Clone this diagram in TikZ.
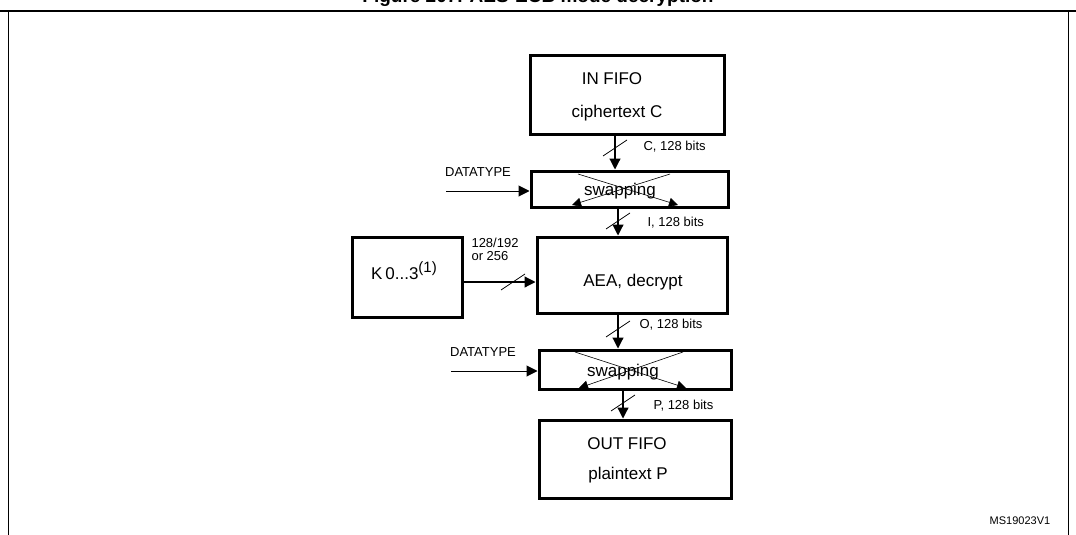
\documentclass[tikz,border=0pt]{standalone}
\usepackage{fontspec}
\setmainfont{Liberation Sans}
\usetikzlibrary{arrows.meta}

\begin{document}
\begin{tikzpicture}[x=1pt,y=-1pt,>={Triangle[length=11pt,width=11pt]},
    block/.style={rectangle, draw, line width=3pt, inner sep=0pt},
    lbl/.style={font=\fontsize{17}{20}\selectfont},
    sml/.style={font=\fontsize{13}{15}\selectfont}]

    \useasboundingbox (0,0) rectangle (1076,535);
    \fill[white] (0,0) rectangle (1076,535);

    % frame and title
    \node[font=\fontsize{19}{22}\selectfont\bfseries] (Title) at (538,-2) {Figure 207. AES-ECB mode decryption};
    \draw[line width=1.5pt] (0,11) -- (1076,11);
    \draw[line width=1pt] (8,11) -- (8,540);
    \draw[line width=1pt] (1068,11) -- (1068,540);

    \node[block,
          minimum width = 194pt,
          minimum height = 78pt] (InFifo) at (627,95) {};
    \node[lbl] at (612,79) {IN FIFO};
    \node[lbl] at (617,113) {ciphertext C};

    \node[block,
          minimum width = 197pt,
          minimum height = 36pt] (Swap1) at (629.5,189) {};
    \node[lbl] at (620,191) {swapping};

    \node[block,
          minimum width = 190pt,
          minimum height = 76pt] (AEA) at (632,275) {};
    \node[lbl] at (633,282) {AEA, decrypt};

    \node[block,
          minimum width = 110pt,
          minimum height = 80pt] (Key) at (407,277) {};
    \node[lbl] at (404,271) {K\,0...3\raisebox{7pt}{\fontsize{15}{17}\selectfont (1)}};

    \node[block,
          minimum width = 192pt,
          minimum height = 39pt] (Swap2) at (635,369.5) {};
    \node[lbl] at (623,372) {swapping};

    \node[block,
          minimum width = 192pt,
          minimum height = 78pt] (OutFifo) at (635,459) {};
    \node[lbl] at (627,444) {OUT FIFO};
    \node[lbl] at (628,475) {plaintext P};

    \coordinate (DT1) at (446,191);
    \coordinate (DT2) at (451,371);
    \node[sml] (DT1label) at (478,172) {DATATYPE};
    \node[sml] (DT2label) at (483,352) {DATATYPE};

    % connectors
    \draw[->,line width=1.2pt] (InFifo.south -| 615,0) -- (Swap1.north -| 615,0);
    \draw[->,line width=1.2pt] (Swap1.south -| 618,0) -- (AEA.north -| 618,0);
    \draw[->,line width=1.2pt] (AEA.south -| 618,0) -- (Swap2.north -| 618,0);
    \draw[->,line width=1.2pt] (Swap2.south -| 623,0) -- (OutFifo.north -| 623,0);
    \draw[->,line width=1.2pt] (Key.east |- 0,282) -- (AEA.west |- 0,282);
    \draw[->,line width=1pt] (DT1) -- (Swap1.west |- DT1);
    \draw[->,line width=1pt] (DT2) -- (Swap2.west |- DT2);

    % bus slashes
    \foreach \x/\y in {615/148, 618/221, 618/329, 623/403, 513/282}
        \draw[line width=0.8pt] (\x-12,\y+8) -- (\x+12,\y-8);

    \node[sml,anchor=west] at (640,147) {C, 128 bits};
    \node[sml,anchor=west] at (644,223) {I, 128 bits};
    \node[sml,anchor=west] at (636,325) {O, 128 bits};
    \node[sml,anchor=west] at (650,406) {P, 128 bits};
    \node[sml,anchor=west,align=left] at (468,249) {128/192\\[-2pt]or 256};

    % swapping crosses
    \draw[-{Triangle[length=9pt,width=9pt]},line width=0.6pt] (578,174) -- (678,205);
    \draw[-{Triangle[length=9pt,width=9pt]},line width=0.6pt] (670,174) -- (572,205);
    \draw[-{Triangle[length=9pt,width=9pt]},line width=0.6pt] (575,352) -- (686,388);
    \draw[-{Triangle[length=9pt,width=9pt]},line width=0.6pt] (683,352) -- (579,388);

    \node[font=\fontsize{11}{13}\selectfont] (Ref) at (1020,521) {MS19023V1};

\end{tikzpicture}
\end{document}
